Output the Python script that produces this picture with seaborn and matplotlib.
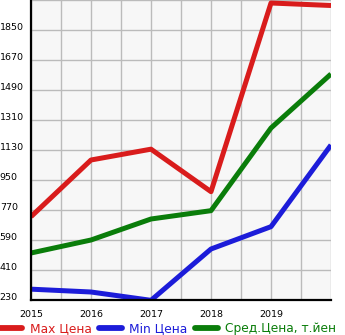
import matplotlib
matplotlib.use("Agg")
import matplotlib.pyplot as plt
import seaborn as sns
import pandas as pd
from matplotlib.lines import Line2D

years = [2015, 2016, 2017, 2018, 2019, 2020]
max_price = [730, 1070, 1135, 880, 2012, 1997]
min_price = [295, 278, 228, 536, 670, 1160]
avg_price = [512, 590, 716, 766, 1262, 1586]
series_names = ["Max Цена", "Min Цена", "Сред.Цена, т.йен"]
colors = ["#d91c1c", "#1c1cd9", "#0a7d0a"]
x_labels = ["2015", "2016", "2017", "2018", "2019"]
y_ticks = [230, 410, 590, 770, 950, 1130, 1310, 1490, 1670, 1850]

rows = []
for name, vals in zip(series_names, [max_price, min_price, avg_price]):
    for y, v in zip(years, vals):
        rows.append({"year": y, "value": v, "series": name})
df = pd.DataFrame(rows)

sns.set_style("white")
plt.rcParams['font.family'] = ['DejaVu Sans']

fig = plt.figure(figsize=(3.45, 3.35), dpi=100)
ax = fig.add_axes([31/345, 35/335, 300/345, 300/335])
ax.set_facecolor("#f7f7f7")

sns.lineplot(data=df, x="year", y="value", hue="series", palette=colors,
             hue_order=series_names, linewidth=3.6, ax=ax, legend=False,
             solid_capstyle="butt", clip_on=True)

ax.set_xlim(2015, 2020)
ax.set_ylim(230, 2030)

xt = [2015 + 0.5 * i for i in range(11)]
ax.set_xticks(xt)
ax.set_xticklabels([x_labels[i // 2] if (i % 2 == 0 and i // 2 < len(x_labels)) else "" for i in range(11)])
ax.set_yticks(y_ticks + [2030])
ax.set_yticklabels([str(v) for v in y_ticks] + [""])
ax.grid(True, color="#bbbbbb", linewidth=1.0)
ax.set_axisbelow(True)

for s in ["top", "right"]:
    ax.spines[s].set_visible(False)
for s in ["left", "bottom"]:
    ax.spines[s].set_color("black")
    ax.spines[s].set_linewidth(1.6)

ax.tick_params(axis="x", length=3, width=1, color="black", pad=4, labelsize=6.8, labelcolor="black")
ax.tick_params(axis="y", length=3, width=1, color="black", pad=19.5, labelsize=6.8, labelcolor="black")
for lbl in ax.get_yticklabels():
    lbl.set_horizontalalignment("left")
    lbl.set_verticalalignment("baseline")

ax.set_xlabel("")
ax.set_ylabel("")

handles = [Line2D([0], [0], color=c, linewidth=4.2, solid_capstyle="round") for c in colors]
leg = fig.legend(handles, series_names, loc="lower left", bbox_to_anchor=(-0.003, 0.0),
                 ncol=3, frameon=False, fontsize=8.8, handlelength=1.9,
                 handletextpad=0.6, columnspacing=0.6, borderpad=0.0, borderaxespad=0)
for t, c in zip(leg.get_texts(), colors):
    t.set_color(c)

fig.savefig("out.png", dpi=100)
